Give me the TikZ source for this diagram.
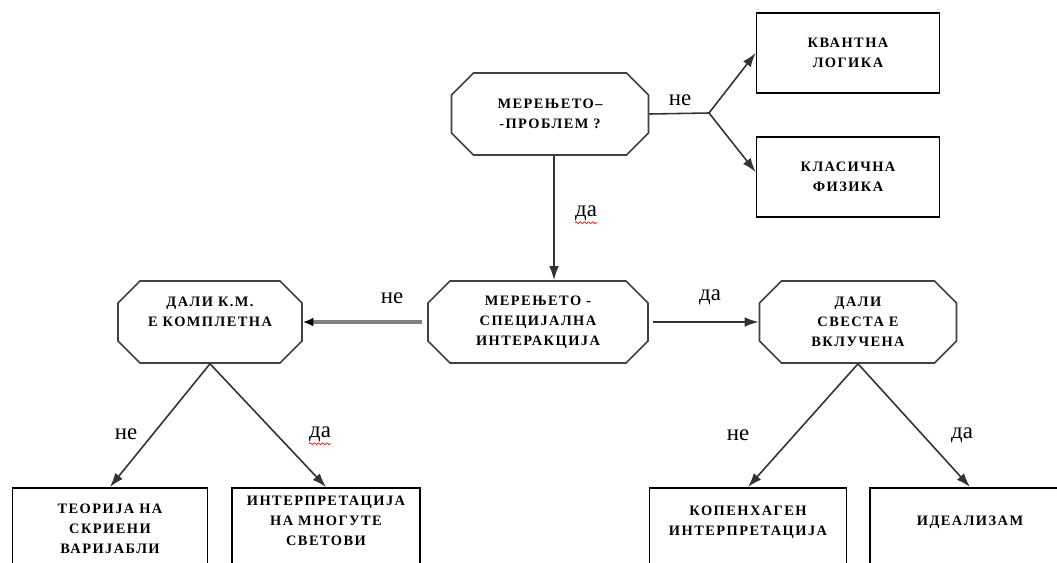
\documentclass[tikz,border=0pt]{standalone}
\usepackage{fontspec}
\setmainfont{Liberation Serif}
\newfontfamily\boxfont[LetterSpace=10,UprightFont={* Bold}]{Liberation Serif}
\usepackage{tikz}
\usetikzlibrary{shapes.misc,arrows.meta,decorations.pathmorphing}
\tikzset{
	boxtext/.style={font=\boxfont\fontsize{8.2}{11.3}\selectfont,align=center},
	octa/.style={boxtext,chamfered rectangle,chamfered rectangle xsep=0.22cm,chamfered rectangle ysep=0.22cm,draw=black!75,line width=0.9pt,minimum height=1.64cm,inner sep=0pt},
	ans/.style={boxtext,draw,line width=1pt,minimum width=3.66cm,minimum height=1.6cm},
	leaf/.style={boxtext,draw,line width=1pt,anchor=north,text depth=2.2cm,inner ysep=0.32cm},
	arr/.style={draw=black!80,line width=0.9pt,-{Latex[length=8pt,width=5.5pt]}},
	lbl/.style={font=\fontsize{13}{15}\selectfont,inner sep=0pt},
	spell/.style={red,line width=0.4pt,decorate,decoration={snake,amplitude=0.5pt,segment length=2.4pt}}
}
\begin{document}
\begin{tikzpicture}[x=0.02cm,y=-0.02cm]
	\useasboundingbox (0,0) rectangle (1057,562);
	\clip (0,0) rectangle (1057,562);
	% questions
	\node[octa,minimum width=3.94cm] (problem) at (550,114) {МЕРЕЊЕТО–\\-ПРОБЛЕМ ?};
	\node[octa,minimum width=4.4cm] (interakcija) at (538,322) {МЕРЕЊЕТО -\\СПЕЦИЈАЛНА\\ИНТЕРАКЦИЈА};
	\node[octa,minimum width=3.68cm] (kompletna) at (210,322) {ДАЛИ К.М.\\Е КОМПЛЕТНА\\~};
	\node[octa,minimum width=3.94cm] (svesta) at (858,322) {ДАЛИ\\СВЕСТА Е\\ВКЛУЧЕНА};
	% answers
	\node[ans] (kvantna) at (848,53) {КВАНТНА\\ЛОГИКА};
	\node[ans] (klasicna) at (848,177) {КЛАСИЧНА\\ФИЗИКА};
	\node[leaf,minimum width=3.9cm] (skrieni) at (110,487) {ТЕОРИЈА НА\\СКРИЕНИ\\ВАРИЈАБЛИ};
	\node[leaf,minimum width=3.76cm,inner ysep=0.16cm] (svetovi) at (326,487) {ИНТЕРПРЕТАЦИЈА\\НА МНОГУТЕ\\СВЕТОВИ};
	\node[leaf,minimum width=3.94cm,inner ysep=0.36cm] (kopenhagen) at (748,487) {КОПЕНХАГЕН\\ИНТЕРПРЕТАЦИЈА};
	\node[leaf,minimum width=4cm,inner ysep=0.56cm] (idealizam) at (970,487) {ИДЕАЛИЗАМ};
	% connectors
	\coordinate (fork) at (709,113);
	\draw[draw=black!80,line width=0.9pt] (problem.east) -- (fork);
	\draw[arr] (fork) -- (kvantna.west);
	\draw[arr] (fork) -- ([yshift=0.1cm]klasicna.west);
	\draw[arr] ([xshift=0.08cm]problem.south) -- ([xshift=0.08cm]problem.south |- interakcija.north);
	\draw[arr,draw=black!50,line width=2.2pt,-{Latex[black,length=6pt,width=5pt]}] ([xshift=-0.1cm]interakcija.west) -- (kompletna.east);
	\draw[arr] ([xshift=0.08cm]interakcija.east) -- (svesta.west);
	\draw[arr] (kompletna.south) -- (skrieni.north);
	\draw[arr] (kompletna.south) -- (svetovi.north);
	\draw[arr] (svesta.south) -- (kopenhagen.north);
	\draw[arr] (svesta.south) -- (idealizam.north);
	% labels
	\node[lbl] (ne1) at (680,100) {не};
	\node[lbl] (da1) at (586,213) {да};
	\node[lbl] (ne2) at (392,298) {не};
	\node[lbl] (da2) at (710,297) {да};
	\node[lbl] (ne3) at (126,434) {не};
	\node[lbl] (da3) at (320,434) {да};
	\node[lbl] (ne4) at (738,435) {не};
	\node[lbl] (da4) at (962,435) {да};
	\draw[spell] ([yshift=-1pt]da1.south west) -- ([yshift=-1pt]da1.south east);
	\draw[spell] ([yshift=-1pt]da3.south west) -- ([yshift=-1pt]da3.south east);
\end{tikzpicture}
\end{document}
